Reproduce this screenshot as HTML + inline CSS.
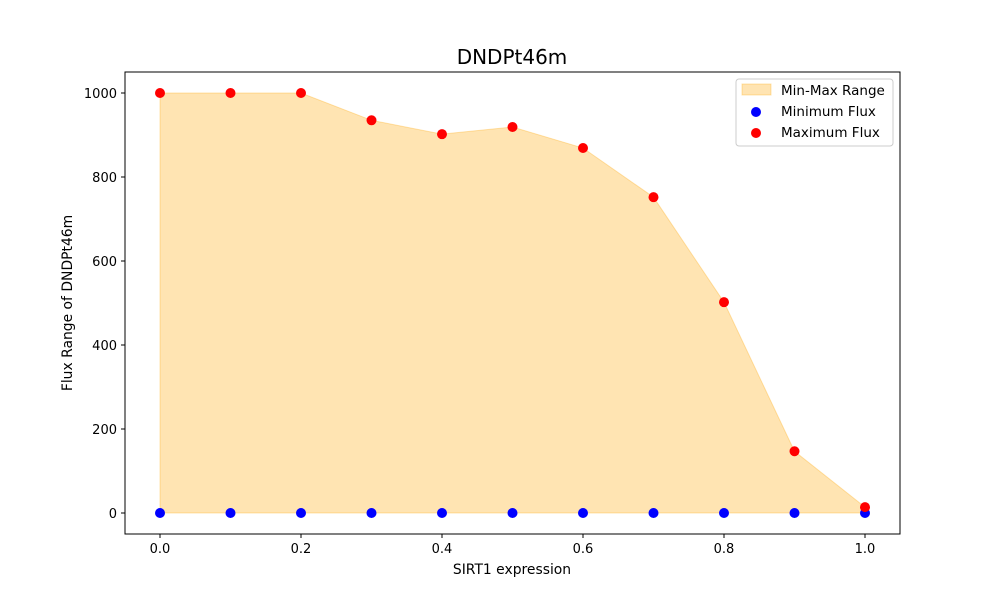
<!DOCTYPE html>
<html><head><meta charset="utf-8"><style>
body{margin:0;background:#fff;font-family:"DejaVu Sans","Liberation Sans",sans-serif}
svg text{font-family:"DejaVu Sans","Liberation Sans",sans-serif}
</style></head><body>
<svg id="chart" width="1000" height="600" xmlns="http://www.w3.org/2000/svg">
<rect width="1000" height="600" fill="#fff"/>
<text x="512" y="64" text-anchor="middle" font-size="20">DNDPt46m</text>
<g id="plot"></g>
<rect x="125" y="72" width="775" height="462" fill="none" stroke="#000" stroke-width="1"/>
<text x="512" y="574" text-anchor="middle" font-size="13.9">SIRT1 expression</text>
<text transform="translate(72,303) rotate(-90)" text-anchor="middle" font-size="13.9">Flux Range of DNDPt46m</text>
<g>
<rect x="736" y="79" width="157" height="67" rx="3" fill="#fff" stroke="#ccc"/>
<rect x="742" y="84" width="29" height="11" fill="#ffa500" fill-opacity="0.3" stroke="#ffa500" stroke-opacity="0.3"/>
<text x="781" y="95" font-size="13.5">Min-Max Range</text>
<circle cx="756" cy="112" r="5" fill="#0000ff"/>
<text x="781" y="116" font-size="13.5">Minimum Flux</text>
<circle cx="756" cy="133" r="5" fill="#ff0000"/>
<text x="781" y="137" font-size="13.5">Maximum Flux</text>
</g>
</svg>
<script>
const xValues=[0,0.1,0.2,0.3,0.4,0.5,0.6,0.7,0.8,0.9,1.0];
const minFlux=[0,0,0,0,0,0,0,0,0,0,0];
const maxFlux=[1000,1000,1000,935,902,919,869,752,502,147,14];
const xTicks=[0,0.2,0.4,0.6,0.8,1.0];
const xTickLabels=["0.0","0.2","0.4","0.6","0.8","1.0"];
const yTicks=[0,200,400,600,800,1000];
const NS="http://www.w3.org/2000/svg";
const xs=v=>160+v*705;
const ys=v=>513-v*0.42;
const g=document.getElementById('plot');
function mk(t,a){const e=document.createElementNS(NS,t);for(const k in a)e.setAttribute(k,a[k]);return e;}
let pts=xValues.map((x,i)=>xs(x)+','+ys(maxFlux[i]));
for(let i=xValues.length-1;i>=0;i--)pts.push(xs(xValues[i])+','+ys(minFlux[i]));
const area=mk('polygon',{points:pts.join(' '),fill:'#ffa500','fill-opacity':0.3,stroke:'#ffa500','stroke-opacity':0.3});


g.appendChild(area);
xTicks.forEach((t,i)=>{
const l=mk('line',{x1:xs(t),x2:xs(t),y1:534,y2:538,stroke:'#000'});


g.appendChild(l);
const tx=mk('text',{x:xs(t),y:553,'text-anchor':'middle','font-size':13});tx.textContent=xTickLabels[i];


g.appendChild(tx);});
yTicks.forEach(t=>{
const l=mk('line',{x1:121,x2:125,y1:ys(t),y2:ys(t),stroke:'#000'});


g.appendChild(l);
const tx=mk('text',{x:117,y:ys(t)+5,'text-anchor':'end','font-size':13});tx.textContent=t;


g.appendChild(tx);});
xValues.forEach((x,i)=>{
const c=mk('circle',{cx:xs(x),cy:ys(minFlux[i]),r:5,fill:'#0000ff'});


g.appendChild(c);});
xValues.forEach((x,i)=>{
const c=mk('circle',{cx:xs(x),cy:ys(maxFlux[i]),r:5,fill:'#ff0000'});


g.appendChild(c);});
</script>
</body></html>
